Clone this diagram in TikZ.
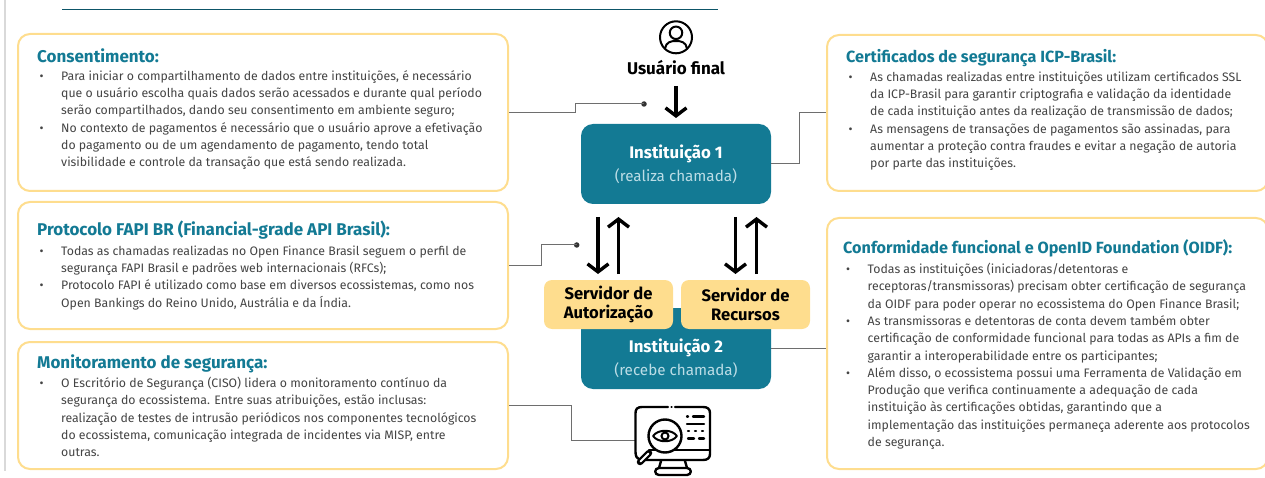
\documentclass[tikz,border=0pt]{standalone}
\usepackage{fontspec}
\setmainfont{Fira Sans}
\usetikzlibrary{arrows.meta}
\definecolor{teal1}{HTML}{137A94}
\definecolor{gold1}{HTML}{FEDD8E}
\definecolor{body1}{HTML}{444444}
\definecolor{sub1}{HTML}{BCDDE6}
\definecolor{conn1}{HTML}{6E6E6E}
\newcommand{\itm}{\makebox[0pt][r]{•\hspace{17.5pt}}}
\newcommand{\fst}{\rule{0pt}{10pt}}
\tikzset{
 x=1pt,y=-1pt,
 card/.style={draw=gold1,line width=2pt,rounded corners=12pt,fill=white,inner sep=0pt},
 title1/.style={anchor=base west,inner sep=0pt,text=teal1,font=\fontsize{17}{19}\selectfont\bfseries},
 title2/.style={anchor=base west,inner sep=0pt,text=teal1,font=\fontsize{16.2}{19}\selectfont\bfseries},
 body1/.style={anchor=north west,inner sep=0pt,text=body1,align=left,font=\fontsize{12.3}{17.3}\selectfont},
 inst/.style={fill=teal1,rounded corners=12pt,inner sep=0pt,minimum width=190pt,minimum height=80pt},
 srv/.style={fill=gold1,rounded corners=8pt,inner sep=0pt,minimum width=129pt,minimum height=49pt,align=center,font=\fontsize{16.6}{18.5}\selectfont\bfseries,text=black},
 itxt/.style={text=white,inner sep=0pt,font=\fontsize{16.8}{19}\selectfont\bfseries},
 isub/.style={text=sub1,inner sep=0pt,font=\fontsize{15.2}{17}\selectfont},
 conn/.style={draw=conn1,line width=1pt},
 bigarrow/.style={line width=3.4pt,black,-{Straight Barb[length=8pt,width=21pt,line width=3.4pt]}},
 dot1/.style={circle,fill=black!80,inner sep=0pt,minimum size=5.5pt},
 ico/.style={line width=2.4pt,black,line cap=round,line join=round},
}
\begin{document}
\begin{tikzpicture}
\useasboundingbox (0,0) rectangle (1265,478);
% page edges
\draw[black!15,line width=1.2pt] (5,0) -- (5,471);
\draw[teal1!70!black,line width=1pt] (62,9.5) -- (718,9.5);
% cards
\node[card,minimum width=490pt,minimum height=157pt] (c1) at (263,112.5) {};
\node[card,minimum width=490pt,minimum height=127pt] (c2) at (263,265.5) {};
\node[card,minimum width=490pt,minimum height=127pt] (c3) at (263,405.5) {};
\node[card,minimum width=441pt,minimum height=156pt] (c4) at (1047.5,113) {};
\node[card,minimum width=441pt,minimum height=251pt] (c5) at (1047.5,343.5) {};
\node[title1] (t1) at (37,63) {Consentimento:};
\node[title1] (t2) at (37,236) {Protocolo FAPI BR (Financial-grade API Brasil):};
\node[title1] (t3) at (37,368.5) {Monitoramento de segurança:};
\node[title2] (t4) at (846,63) {Certificados de segurança ICP-Brasil:};
\node[title2] (t5) at (843,254) {Conformidade funcional e OpenID Foundation (OIDF):};
\node[body1] (b1) at (61,70) {\itm\fst Para iniciar o compartilhamento de dados entre instituições, é necessário\\
que o usuário escolha quais dados serão acessados e durante qual período\\
serão compartilhados, dando seu consentimento em ambiente seguro;\\
\itm No contexto de pagamentos é necessário que o usuário aprove a efetivação\\
do pagamento ou de um agendamento de pagamento, tendo total\\
visibilidade e controle da transação que está sendo realizada.};
\node[body1] (b2) at (61,245) {\itm\fst Todas as chamadas realizadas no Open Finance Brasil seguem o perfil de\\
segurança FAPI Brasil e padrões web internacionais (RFCs);\\
\itm Protocolo FAPI é utilizado como base em diversos ecossistemas, como nos\\
Open Bankings do Reino Unido, Austrália e da Índia.};
\node[body1] (b3) at (61,377) {\itm\fst O Escritório de Segurança (CISO) lidera o monitoramento contínuo da\\
segurança do ecossistema. Entre suas atribuições, estão inclusas:\\
realização de testes de intrusão periódicos nos componentes tecnológicos\\
do ecossistema, comunicação integrada de incidentes via MISP, entre\\
outras.};
\node[body1] (b4) at (870,71) {\itm\fst As chamadas realizadas entre instituições utilizam certificados SSL\\
da ICP-Brasil para garantir criptografia e validação da identidade\\
de cada instituição antes da realização de transmissão de dados;\\
\itm As mensagens de transações de pagamentos são assinadas, para\\
aumentar a proteção contra fraudes e evitar a negação de autoria\\
por parte das instituições.};
\node[body1] (b5) at (867.5,263) {\itm\fst Todas as instituições (iniciadoras/detentoras e\\
receptoras/transmissoras) precisam obter certificação de segurança\\
da OIDF para poder operar no ecossistema do Open Finance Brasil;\\
\itm As transmissoras e detentoras de conta devem também obter\\
certificação de conformidade funcional para todas as APIs a fim de\\
garantir a interoperabilidade entre os participantes;\\
\itm Além disso, o ecossistema possui uma Ferramenta de Validação em\\
Produção que verifica continuamente a adequação de cada\\
instituição às certificações obtidas, garantindo que a\\
implementação das instituições permaneça aderente aos protocolos\\
de segurança.};
% institutions
\node[inst] (i1) at (676,164) {};
\node[inst,minimum height=81pt] (i2) at (676,348.5) {};
\node[srv] (s1) at (608.5,304.5) {Servidor de\\Autorização};
\node[srv] (s2) at (745.5,304.5) {Servidor de\\Recursos};
\node[itxt] (i1a) at (676,154) {Instituição 1};
\node[isub] (i1b) at (676,176) {(realiza chamada)};
\node[itxt] (i2a) at (676,348) {Instituição 2};
\node[isub] (i2b) at (676,370.5) {(recebe chamada)};
% user
\node[circle,draw=black,line width=2pt,minimum size=32pt,inner sep=0pt] (u) at (676,37.3) {};
\node[circle,draw=black,line width=2pt,minimum size=12.5pt,inner sep=0pt] (uh) at (676,32.8) {};
\draw[line width=2pt,black,line cap=round] (665,48.5) .. controls (666,42) and (671,41) .. (676,41) .. controls (681,41) and (686,42) .. (687,48.5);
\node[inner sep=0pt,font=\fontsize{17}{19}\selectfont\bfseries] (ul) at (676,68) {Usuário final};
% big arrows
\coordinate (ua) at (676,86);
\coordinate (ub) at (676,118);
\draw[bigarrow] (ua) -- (ub);
\coordinate (a1t) at (598,217); \coordinate (a1b) at (598,274);
\coordinate (a2b) at (618.5,274); \coordinate (a2t) at (618.5,217);
\coordinate (a3t) at (735.5,217); \coordinate (a3b) at (735.5,274);
\coordinate (a4b) at (756.5,274); \coordinate (a4t) at (756.5,217);
\draw[bigarrow] (a1t) -- (a1b);
\draw[bigarrow] (a2b) -- (a2t);
\draw[bigarrow] (a3t) -- (a3b);
\draw[bigarrow] (a4b) -- (a4t);
% connectors
\node[dot1] (d1) at (644,104) {};
\node[dot1] (d2) at (576.7,245) {};
\draw[conn] (c1.east) -- (575,112.5) -- (575,104) -- (d1.center);
\draw[conn] (c2.east) -- (541.7,265.5) -- (541.7,245) -- (d2.center);
\draw[conn] (i1.east) -- (799,164) -- (799,113) -- (c4.west);
\draw[conn] (i2.east) -- (i2.east -| c5.west);
\coordinate (mon) at (635.5,440.7);
\draw[conn] (c3.east) -- (571,405.5) -- (571,440.7) -- (mon);
% monitor icon
\draw[ico] (668,407) -- (642,407) .. controls (637.5,407) and (635.5,409) .. (635.5,413) -- (635.5,452) .. controls (635.5,456) and (637,459) .. (640,460);
\draw[ico] (675,407) -- (703,407) .. controls (707.5,407) and (710,409) .. (710,413) -- (710,454) .. controls (710,458) and (707.5,460) .. (703,460) -- (645,460);
\draw[ico] (671.5,407) -- (671.6,407);
\draw[ico] (649,450) -- (710,450);
\draw[ico] (661,461) -- (659,468); \draw[ico] (685,461) -- (687,468);
\draw[ico] (659,468) -- (687,468) .. controls (692,468) and (692,475) .. (687,475) -- (659,475) .. controls (654,475) and (654,468) .. (659,468);
\node[circle,draw=black,fill=white,line width=2.4pt,minimum size=33pt,inner sep=0pt] (lens) at (665,436) {};
\draw[ico,line width=6.5pt] (649,453) -- (640,462);
\draw[ico,white,line width=2pt] (648.5,453.5) -- (640.5,461.5);
\draw[ico,line width=2pt] (653,436) .. controls (658,429) and (672,429) .. (677,436) .. controls (672,443) and (658,443) .. (653,436) -- cycle;
\node[circle,draw=black,line width=2pt,minimum size=7pt,inner sep=0pt] (pupil) at (665,436) {};
\draw[ico] (687,416.5) -- (688,416.5); \draw[ico] (693,416.5) -- (704,416.5);
\draw[ico] (687,424) -- (704,424);
\draw[ico] (688,431) -- (689,431); \draw[ico] (695,431) -- (696,431); \draw[ico] (702,431) -- (703,431);
\draw[ico] (688,438.5) -- (694,438.5); \draw[ico] (699,438.5) -- (704,438.5);
\end{tikzpicture}
\end{document}
